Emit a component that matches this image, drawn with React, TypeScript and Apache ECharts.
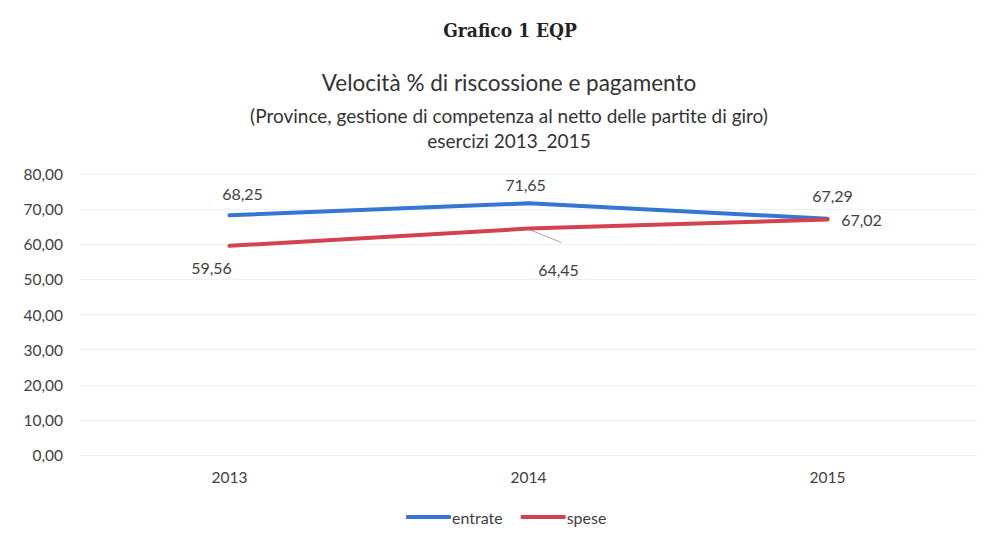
import React, { useEffect, useRef } from "react";
import * as echarts from "echarts";

const categories = ["2013", "2014", "2015"];
const entrate = [68.25, 71.65, 67.29];
const spese = [59.56, 64.45, 67.02];
const yTicks = [0, 10, 20, 30, 40, 50, 60, 70, 80];

const fmt = (v: number) => v.toFixed(2).replace(".", ",");
const FONT = "Lato";

export default function App() {
  const ref = useRef<HTMLDivElement>(null);
  useEffect(() => {
    const chart = echarts.init(ref.current!, undefined, { renderer: "svg" });
    const entrateOffsets = [[13, -22], [-3, -19], [5, -23]];
    const speseOffsets = [[-18, 22], [30, 41], [34, 0]];
    const labelStyle = {
      show: true,
      position: "inside",
      fontFamily: FONT,
      fontSize: 16,
      color: "#404040",
      formatter: (p: any) => fmt(p.value),
    };
    chart.setOption({
      animation: false,
      backgroundColor: "#ffffff",
      textStyle: { fontFamily: FONT },
      title: [
        {
          text: "Grafico 1 EQP",
          left: 505,
          top: 15,
          textAlign: "center",
          textStyle: { fontFamily: "DejaVu Serif Condensed", fontWeight: "bold", fontSize: 19, color: "#222" },
        },
        {
          text: "Velocità % di riscossione e pagamento",
          left: 504,
          top: 66,
          textAlign: "center",
          textStyle: { fontFamily: FONT, fontWeight: "normal", fontSize: 22.5, color: "#333" },
        },
        {
          text: "(Province, gestione di competenza al netto delle partite di giro)\nesercizi 2013_2015",
          left: 504,
          top: 98,
          textAlign: "center",
          textStyle: { fontFamily: FONT, fontWeight: "normal", fontSize: 19, lineHeight: 25, color: "#333" },
        },
      ],
      legend: {
        bottom: 12,
        left: 401,
        itemWidth: 45,
        itemHeight: 4,
        itemGap: 18,
        icon: "roundRect",
        textStyle: { fontFamily: FONT, fontSize: 16, color: "#404040", padding: [0, 0, 0, -4] },
        data: ["entrate", "spese"],
      },
      grid: { left: 80, right: 13, top: 174, bottom: 87 },
      xAxis: {
        type: "category",
        data: categories,
        boundaryGap: true,
        axisLine: { show: false },
        axisTick: { show: false },
        axisLabel: { fontFamily: FONT, fontSize: 15.5, color: "#404040", margin: 14 },
      },
      yAxis: {
        type: "value",
        min: yTicks[0],
        max: yTicks[yTicks.length - 1],
        interval: 10,
        axisLine: { show: false },
        axisTick: { show: false },
        splitLine: { lineStyle: { color: "#f0f0f0", width: 1 } },
        axisLabel: { fontFamily: FONT, fontSize: 15.5, color: "#404040", margin: 17, formatter: (v: number) => fmt(v) },
      },
      series: [
        {
          name: "entrate",
          type: "line",
          data: entrate,
          symbol: "circle",
          symbolSize: 0.1,
          showSymbol: true,
          lineStyle: { color: "#3476d2", width: 4, cap: "round" },
          itemStyle: { color: "#3476d2" },
          label: labelStyle,
          labelLayout: (p: any) => ({ dx: entrateOffsets[p.dataIndex][0], dy: entrateOffsets[p.dataIndex][1] }),
        },
        {
          name: "spese",
          type: "line",
          data: spese,
          symbol: "circle",
          symbolSize: 0.1,
          showSymbol: true,
          lineStyle: { color: "#d2434f", width: 4, cap: "round" },
          itemStyle: { color: "#d2434f" },
          label: labelStyle,
          labelLayout: (p: any) => ({ dx: speseOffsets[p.dataIndex][0], dy: speseOffsets[p.dataIndex][1] }),
        },
      ],
    });
    // leader line for the 2014 "spese" label, anchored through the chart's own scale
    const pt = chart.convertToPixel({ seriesIndex: 1 }, [1, spese[1]]) as number[];
    if (pt) {
      chart.setOption({
        graphic: [
          {
            type: "line",
            z: 1,
            shape: { x1: pt[0] + 1, y1: pt[1] + 1, x2: pt[0] + 33, y2: pt[1] + 14 },
            style: { stroke: "#a6a6a6", lineWidth: 1 },
          },
        ],
      });
    }
    return () => chart.dispose();
  }, []);
  return <div ref={ref} style={{ width: 990, height: 542, position: "absolute", left: 0, top: 0 }} />;
}
